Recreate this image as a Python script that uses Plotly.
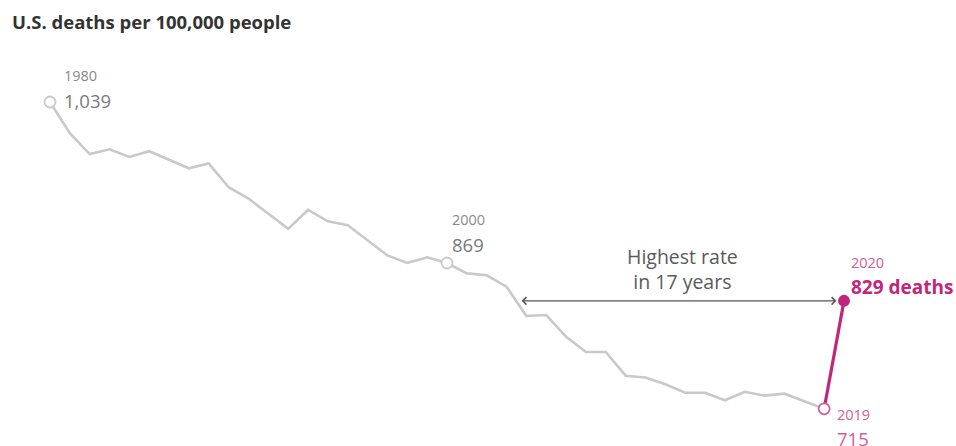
import plotly.graph_objects as go

years = list(range(1980, 2021))
rates = [1039, 1006, 984, 989, 981, 987, 978, 969, 974, 949,
         937, 921, 905, 925, 913, 909, 893, 877, 869, 875,
         869, 858, 856, 844, 813, 814, 791, 775, 775, 750,
         748, 741, 732, 732, 724, 733, 729, 731, 723, 715,
         829]

title_text = "U.S. deaths per 100,000 people"
GRAY = "#c9c9c9"
MAG = "#c2267a"
MAG_L = "#d0609a"
TXT = "#7a7a7a"
FONT = "Open Sans"

fig = go.Figure()
# gray history line 1980-2019
fig.add_trace(go.Scatter(x=years[:-1], y=rates[:-1], mode="lines",
                         line=dict(color=GRAY, width=2.6), hoverinfo="skip"))
# magenta jump 2019-2020
fig.add_trace(go.Scatter(x=years[-2:], y=rates[-2:], mode="lines",
                         line=dict(color=MAG, width=3.2), hoverinfo="skip"))
# open gray markers 1980, 2000
idx = [0, 20]
fig.add_trace(go.Scatter(x=[years[i] for i in idx], y=[rates[i] for i in idx], mode="markers",
                         marker=dict(size=11, color="white", line=dict(color=GRAY, width=1.8)),
                         hoverinfo="skip"))
# 2019 open magenta marker
fig.add_trace(go.Scatter(x=[years[-2]], y=[rates[-2]], mode="markers",
                         marker=dict(size=11, color="white", line=dict(color=MAG_L, width=1.8)),
                         hoverinfo="skip"))
# 2020 filled marker
fig.add_trace(go.Scatter(x=[years[-1]], y=[rates[-1]], mode="markers",
                         marker=dict(size=12, color=MAG), hoverinfo="skip"))

def lab(i, text, size, color, dx, dy, bold=False):
    fig.add_annotation(x=years[i], y=rates[i], text=(f"<b>{text}</b>" if bold else text),
                       showarrow=False, xanchor="left", yanchor="middle",
                       xshift=dx, yshift=dy, font=dict(family=FONT, size=size, color=color))

def fmt(v):
    return f"{v:,}"

lab(0, str(years[0]), 14.5, "#8a8a8a", 12, 26)
lab(0, fmt(rates[0]), 18.5, TXT, 12, 1)
lab(20, str(years[20]), 14.5, "#8a8a8a", 3, 43)
lab(20, fmt(rates[20]), 18.5, TXT, 3, 18)
lab(39, str(years[39]), 14.5, MAG_L, 11, -6)
lab(39, fmt(rates[39]), 18.5, MAG_L, 11, -30)
lab(40, str(years[40]), 14.5, MAG_L, 5, 38)
lab(40, f"{rates[40]} deaths", 19, MAG, 5, 14, bold=True)

# double-headed arrow at the 2020 level back to 2003/2004 crossing
x_start = 2003 + (rates[23] - rates[40]) / (rates[23] - rates[24]) + 0.2
fig.add_annotation(x=years[-1] - 0.38, y=rates[-1], ax=x_start, ay=rates[-1],
                   xref="x", yref="y", axref="x", ayref="y", text="",
                   showarrow=True, arrowhead=4, startarrowhead=4, arrowside="end+start",
                   arrowsize=1.1, startarrowsize=1.1, arrowwidth=1.3, arrowcolor="#555555")
fig.add_annotation(x=(x_start + years[-1]) / 2, y=rates[-1], text="Highest rate<br>in 17 years",
                   showarrow=False, yanchor="bottom", yshift=4,
                   font=dict(family=FONT, size=19.5, color="#5a5a5a"))

fig.add_annotation(x=0.0105, y=0.951, xref="paper", yref="paper", text=f"<b>{title_text}</b>",
                   showarrow=False, xanchor="left", yanchor="middle",
                   font=dict(family=FONT, size=18.5, color="#333333"))

fig.update_layout(width=956, height=446, margin=dict(l=0, r=0, t=0, b=0),
                  paper_bgcolor="white", plot_bgcolor="white", showlegend=False)
fig.update_xaxes(range=[1977.481, 2025.642], visible=False, fixedrange=True)
fig.update_yaxes(range=[675.75, 1146.7], visible=False, fixedrange=True)

fig.write_html("out.html", post_script="document.body.style.margin='0';",
               config={"displayModeBar": False})
